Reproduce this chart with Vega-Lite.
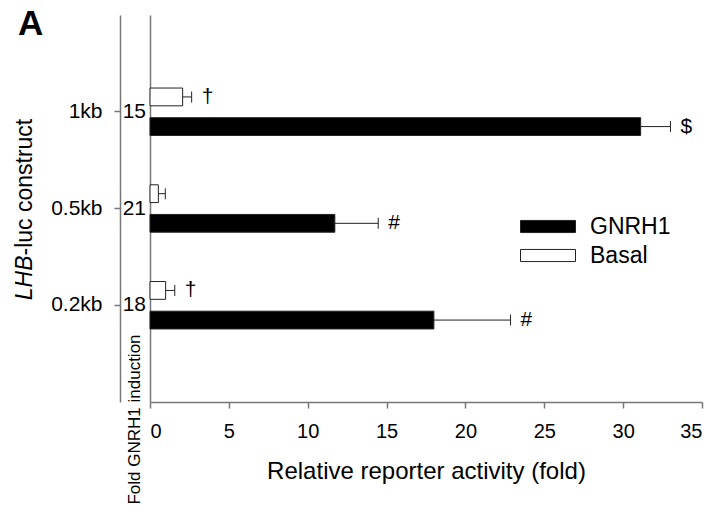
{
  "$schema": "https://vega.github.io/schema/vega-lite/v6.json",
  "width": 552,
  "height": 387,
  "autosize": {"type": "none"},
  "padding": {"left": 150, "top": 15, "right": 18, "bottom": 113},
  "config": {
    "font": "Liberation Sans",
    "view": {"stroke": null},
    "axis": {"grid": false, "domainColor": "#777777", "tickColor": "#777777", "labelColor": "black", "titleColor": "black", "domainWidth": 1.5, "tickWidth": 1.5}
  },
  "title": {"text": "A", "fontSize": 35, "fontWeight": "bold", "anchor": "start", "frame": "group", "offset": 0, "dx": -132, "dy": 55, "baseline": "alphabetic", "color": "black"},
  "datasets": {
    "bars": [
      {"construct": "1kb", "condition": "Basal", "value": 2.07, "hi": 2.64, "sig": "†"},
      {"construct": "1kb", "condition": "GNRH1", "value": 31.11, "hi": 33.0, "sig": "$"},
      {"construct": "0.5kb", "condition": "Basal", "value": 0.53, "hi": 0.97, "sig": ""},
      {"construct": "0.5kb", "condition": "GNRH1", "value": 11.72, "hi": 14.47, "sig": "#"},
      {"construct": "0.2kb", "condition": "Basal", "value": 0.99, "hi": 1.57, "sig": "†"},
      {"construct": "0.2kb", "condition": "GNRH1", "value": 18.0, "hi": 22.86, "sig": "#"}
    ],
    "folds": [
      {"construct": "1kb", "fold": "15"},
      {"construct": "0.5kb", "fold": "21"},
      {"construct": "0.2kb", "fold": "18"}
    ]
  },
  "resolve": {"axis": {"x": "independent", "y": "independent"}},
  "layer": [
    {
      "data": {"name": "bars"},
      "mark": {"type": "bar", "stroke": "#222222", "strokeWidth": 1},
      "encoding": {
        "x": {"field": "value", "type": "quantitative", "scale": {"domain": [0, 35], "nice": false},
          "axis": {"orient": "bottom", "values": [0, 5, 10, 15, 20, 25, 30, 35], "tickSize": 6, "labelFontSize": 20, "labelPadding": 13,
            "title": "Relative reporter activity (fold)", "titleFontSize": 24, "titleFontWeight": "normal", "titleY": 76, "titleBaseline": "alphabetic"}},
        "y": {"field": "construct", "type": "nominal", "scale": {"domain": ["1kb", "0.5kb", "0.2kb"], "paddingInner": 0.51, "paddingOuter": 0.755},
          "axis": {"orient": "left", "offset": 30, "tickSize": 6, "labelFontSize": 21, "labelPadding": 12,
            "title": "-luc construct", "titleFontSize": 23, "titleFontWeight": "normal", "titleAngle": 270, "titleAlign": "left", "titleBaseline": "alphabetic", "titleX": -89, "titleY": 240}},
        "yOffset": {"field": "condition", "type": "nominal", "scale": {"domain": ["Basal", "GNRH1"], "paddingInner": 0.4, "paddingOuter": 0}},
        "fill": {"field": "condition", "type": "nominal", "scale": {"domain": ["GNRH1", "Basal"], "range": ["black", "white"]},
          "legend": {"orient": "none", "legendX": 386.5, "legendY": 200, "title": null, "symbolType": "M-2.5,-0.55H2.5V0.55H-2.5Z", "symbolSize": 484,
            "symbolStrokeColor": "#222222", "symbolStrokeWidth": 1, "labelFontSize": 23, "labelOffset": 30.5, "rowPadding": 5, "padding": 0, "labelColor": "black"}}
      }
    },
    {
      "data": {"name": "bars"},
      "mark": {"type": "rule", "color": "#222222", "strokeWidth": 1},
      "encoding": {
        "x": {"field": "value", "type": "quantitative", "scale": {"domain": [0, 35], "nice": false},
          "axis": {"orient": "bottom", "domain": false, "ticks": false, "labels": false, "title": "LHB", "titleFontSize": 23, "titleFontStyle": "italic", "titleFontWeight": "normal",
            "titleAngle": 270, "titleAlign": "right", "titleBaseline": "alphabetic", "titleX": -119, "titleY": -147}},
        "x2": {"field": "hi"},
        "y": {"field": "construct", "type": "nominal", "scale": {"domain": ["1kb", "0.5kb", "0.2kb"], "paddingInner": 0.51, "paddingOuter": 0.755}, "axis": null},
        "yOffset": {"field": "condition", "type": "nominal", "scale": {"domain": ["Basal", "GNRH1"], "paddingInner": 0.4, "paddingOuter": 0}}
      }
    },
    {
      "data": {"name": "bars"},
      "mark": {"type": "tick", "color": "#222222", "size": 11, "thickness": 1, "opacity": 1},
      "encoding": {
        "x": {"field": "hi", "type": "quantitative", "scale": {"domain": [0, 35], "nice": false}, "axis": null},
        "y": {"field": "construct", "type": "nominal", "scale": {"domain": ["1kb", "0.5kb", "0.2kb"], "paddingInner": 0.51, "paddingOuter": 0.755}, "axis": null},
        "yOffset": {"field": "condition", "type": "nominal", "scale": {"domain": ["Basal", "GNRH1"], "paddingInner": 0.4, "paddingOuter": 0}}
      }
    },
    {
      "data": {"name": "bars"},
      "mark": {"type": "text", "align": "left", "baseline": "middle", "dx": 10, "fontSize": 21, "color": "black"},
      "encoding": {
        "x": {"field": "hi", "type": "quantitative", "scale": {"domain": [0, 35], "nice": false}, "axis": null},
        "y": {"field": "construct", "type": "nominal", "scale": {"domain": ["1kb", "0.5kb", "0.2kb"], "paddingInner": 0.51, "paddingOuter": 0.755}, "axis": null},
        "yOffset": {"field": "condition", "type": "nominal", "scale": {"domain": ["Basal", "GNRH1"], "paddingInner": 0.4, "paddingOuter": 0}},
        "text": {"field": "sig"}
      }
    },
    {
      "data": {"name": "folds"},
      "mark": {"type": "text", "align": "right", "baseline": "middle", "dx": -4, "fontSize": 21, "color": "black"},
      "encoding": {
        "x": {"datum": 0, "type": "quantitative", "scale": {"domain": [0, 35], "nice": false}, "axis": null},
        "y": {"field": "construct", "type": "nominal", "scale": {"domain": ["1kb", "0.5kb", "0.2kb"], "paddingInner": 0.51, "paddingOuter": 0.755},
          "axis": {"orient": "left", "offset": 0, "domain": true, "ticks": false, "labels": false, "title": "Fold GNRH1 induction", "titleFontSize": 17, "titleFontWeight": "normal",
            "titleAngle": 270, "titleAlign": "center", "titleBaseline": "alphabetic", "titleX": -11, "titleY": 404}},
        "text": {"field": "fold"}
      }
    }
  ]
}
